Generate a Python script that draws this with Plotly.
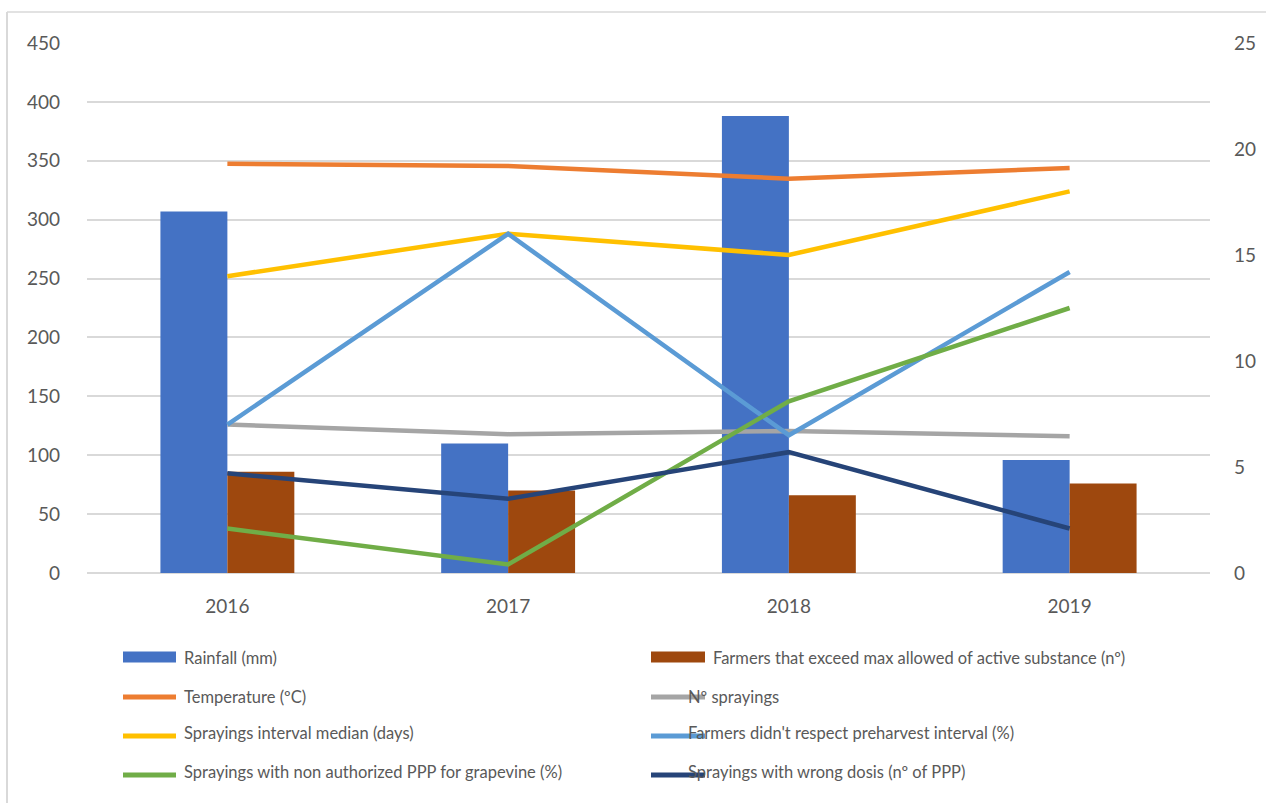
import plotly.graph_objects as go

# ---------------- data ----------------
years = ["2016", "2017", "2018", "2019"]
rainfall = [307, 110, 388, 96]
farmers_exceed = [86, 70, 66, 76]
temperature = [19.3, 19.2, 18.6, 19.1]
n_sprayings = [7.0, 6.55, 6.7, 6.45]
interval_median = [14.0, 16.0, 15.0, 18.0]
preharvest = [7.0, 16.0, 6.5, 14.2]
non_authorized = [2.1, 0.4, 8.1, 12.5]
wrong_dosis = [4.7, 3.5, 5.7, 2.1]

bar_names = ["Rainfall (mm)", "Farmers that exceed max allowed of active substance (nº)"]
bar_values = [rainfall, farmers_exceed]
bar_colors = ["#4472C4", "#9E480E"]

line_names = ["Temperature (ºC)", "Nº sprayings", "Sprayings interval median (days)",
              "Farmers didn't respect preharvest interval (%)",
              "Sprayings with non authorized PPP for grapevine (%)",
              "Sprayings with wrong dosis (nº of PPP)"]
line_values = [temperature, n_sprayings, interval_median, preharvest, non_authorized, wrong_dosis]
line_colors = ["#ED7D31", "#A5A5A5", "#FFC000", "#5B9BD5", "#70AD47", "#264478"]

left_ticks = list(range(0, 451, 50))
right_ticks = list(range(0, 26, 5))

# ---------------- layout geometry ----------------
W, H = 1266, 803
L, R, T, B = 87, 56, 43, 230
PW, PH = W - L - R, H - T - B
FONT = "Lato"
TXT = "#595959"
GRID = "#D9D9D9"


def px(x):
    return (x - L) / PW


def py(y):
    return (H - B - y) / PH


fig = go.Figure()
for name, vals, col in zip(bar_names, bar_values, bar_colors):
    fig.add_trace(go.Bar(x=years, y=vals, name=name, marker=dict(color=col, line=dict(width=0)),
                         yaxis="y", showlegend=False))
for name, vals, col in zip(line_names, line_values, line_colors):
    fig.add_trace(go.Scatter(x=years, y=vals, name=name, mode="lines",
                             line=dict(color=col, width=4.5), yaxis="y2", showlegend=False))

# ---------------- manual legend (Excel style) ----------------
entries = [(bar_names[0], bar_colors[0], "bar"), (bar_names[1], bar_colors[1], "bar")]
entries += [(n, c, "line") for n, c in zip(line_names, line_colors)]
swatch_y = [657, 697, 736, 775]
text_y = [658, 697, 733, 772]
shapes = []
annotations = []
for i, (name, col, kind) in enumerate(entries):
    row, c = divmod(i, 2)
    x0, x1 = (123, 176) if c == 0 else (651, 705)
    if kind == "bar":
        shapes.append(dict(type="rect", xref="paper", yref="paper",
                           x0=px(x0), x1=px(x1), y0=py(swatch_y[row] - 5.5), y1=py(swatch_y[row] + 5.5),
                           fillcolor=col, line=dict(width=0)))
    else:
        shapes.append(dict(type="line", xref="paper", yref="paper",
                           x0=px(x0), x1=px(x1), y0=py(swatch_y[row]), y1=py(swatch_y[row]),
                           line=dict(color=col, width=5)))
    tx = 182 if c == 0 else (711 if kind == "bar" else 686)
    annotations.append(dict(x=px(tx), y=py(text_y[row]), xref="paper", yref="paper",
                            text=name, showarrow=False, xanchor="left", yanchor="middle",
                            font=dict(family=FONT, size=16.5, color=TXT)))

# chart-area border (top and left edges visible)
shapes.append(dict(type="line", xref="paper", yref="paper", x0=px(7), x1=px(1266),
                   y0=py(12), y1=py(12), line=dict(color=GRID, width=1.5), layer="below"))
shapes.append(dict(type="line", xref="paper", yref="paper", x0=px(7), x1=px(7),
                   y0=py(12), y1=py(803), line=dict(color=GRID, width=2), layer="below"))

fig.update_layout(
    width=W, height=H,
    margin=dict(l=L, r=R, t=T, b=B, autoexpand=False),
    paper_bgcolor="white", plot_bgcolor="white",
    barmode="group", bargap=0.523, bargroupgap=0,
    font=dict(family=FONT, color=TXT),
    showlegend=False,
    xaxis=dict(type="category", categoryorder="array", categoryarray=years,
               range=[-0.5, 3.5], showgrid=False, showline=False, ticks="",
               tickfont=dict(family=FONT, size=19, color=TXT), ticklabelstandoff=20),
    yaxis=dict(range=[0, 450], tickvals=left_ticks, showgrid=True, gridcolor=GRID, gridwidth=1.5,
               zeroline=True, zerolinecolor=GRID, zerolinewidth=1.5, showline=False, ticks="",
               tickfont=dict(family=FONT, size=19, color=TXT), ticklabelstandoff=26),
    yaxis2=dict(range=[0, 25], tickvals=right_ticks, overlaying="y", side="right", showgrid=False,
                zeroline=False, showline=False, ticks="",
                tickfont=dict(family=FONT, size=19, color=TXT), ticklabelstandoff=23),
    shapes=shapes,
    annotations=annotations,
)

fig.write_html("out.html")
